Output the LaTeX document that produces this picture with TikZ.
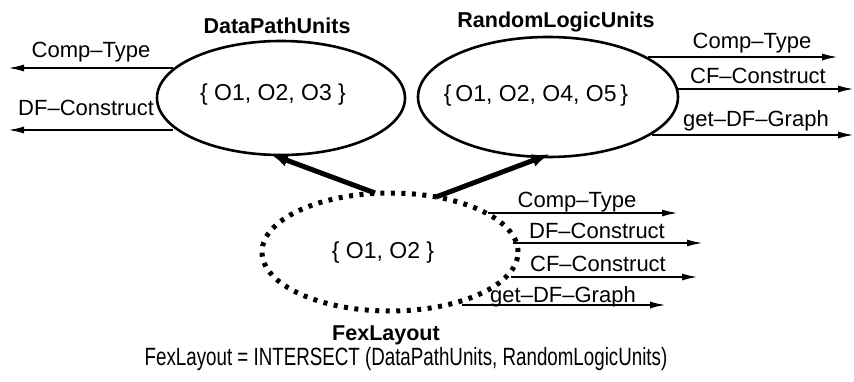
\documentclass[tikz,border=0pt]{standalone}
\usepackage{fontspec}
\setmainfont{Liberation Sans}
\usetikzlibrary{shapes.geometric,arrows.meta}
\tikzset{
  setnode/.style={ellipse, draw, line width=2.6pt, inner sep=0pt},
  dotset/.style={ellipse, draw, line width=5pt, dash pattern=on 4pt off 6.5pt, inner sep=0pt},
  msg/.style={line width=1.9pt, -{Latex[length=16pt,width=7pt]}},
  inherit/.style={line width=5pt, -{Latex[length=18pt,width=13pt]}},
  lbl/.style={font=\fontsize{22}{22}\selectfont, inner sep=0pt, anchor=base},
  title/.style={font=\fontsize{21.5}{22}\selectfont\bfseries, inner sep=0pt, anchor=base},
  members/.style={font=\fontsize{23}{23}\selectfont, inner sep=0pt, anchor=base}
}
\begin{document}
\begin{tikzpicture}[x=1pt,y=-1pt]
\useasboundingbox (0,0) rectangle (854,381);

% the three sets
\node[setnode, minimum width=248pt, minimum height=114pt] (dp) at (281,98) {};
\node[setnode, minimum width=260pt, minimum height=120pt] (rl) at (548,97) {};
\node[dotset, minimum width=256pt, minimum height=118pt] (fx) at (390,252) {};

\node[members] (dpm) at (273,100) {\{ O1, O2, O3 \}};
\node[members] (rlm) at (536,101) {\{\,O1, O2, O4, O5\,\}};
\node[members] (fxm) at (383,258) {\{ O1, O2 \}};

\node[title] (dpt) at (277,33) {DataPathUnits};
\node[title] (rlt) at (556,27) {RandomLogicUnits};
\node[title] (fxt) at (386,340) {FexLayout};

\node[font=\fontsize{25}{25}\selectfont, inner sep=0pt, anchor=base, xscale=0.75] (eq) at (406,365)
  {FexLayout = INTERSECT (DataPathUnits, RandomLogicUnits)};

% inheritance arrows
\coordinate (fxl) at (375,193);
\coordinate (fxr) at (436,197);
\coordinate (dpb) at (270,154);
\coordinate (rlb) at (550,154);
\draw[inherit] (fxl) -- (dpb);
\draw[inherit] (fxr) -- (rlb);

% messages of DataPathUnits
\coordinate (dp1) at (173,68);  \coordinate (dp1e) at (8,68);
\coordinate (dp2) at (173,130); \coordinate (dp2e) at (8,130);
\draw[msg] (dp1) -- (dp1e);
\draw[msg] (dp2) -- (dp2e);
\node[lbl] (dpl1) at (91,57) {Comp–Type};
\node[lbl, anchor=base west] (dpl2) at (18,115) {DF–Construct};

% messages of RandomLogicUnits
\coordinate (rl1) at (648,57);  \coordinate (rl1e) at (838,57);
\coordinate (rl2) at (677,89);  \coordinate (rl2e) at (854,89);
\coordinate (rl3) at (652,135); \coordinate (rl3e) at (854,135);
\draw[msg] (rl1) -- (rl1e);
\draw[msg] (rl2) -- (rl2e);
\draw[msg] (rl3) -- (rl3e);
\node[lbl] (rll1) at (752,48) {Comp–Type};
\node[lbl] (rll2) at (758,83) {CF–Construct};
\node[lbl] (rll3) at (756,126) {get–DF–Graph};

% messages of FexLayout
\coordinate (fx1) at (488,213); \coordinate (fx1e) at (678,213);
\coordinate (fx2) at (513,243); \coordinate (fx2e) at (703,243);
\coordinate (fx3) at (511,277); \coordinate (fx3e) at (698,277);
\coordinate (fx4) at (462,305); \coordinate (fx4e) at (666,305);
\draw[msg] (fx1) -- (fx1e);
\draw[msg] (fx2) -- (fx2e);
\draw[msg] (fx3) -- (fx3e);
\draw[msg] (fx4) -- (fx4e);
\node[lbl] (fxl1) at (577,207) {Comp–Type};
\node[lbl] (fxl2) at (597,238) {DF–Construct};
\node[lbl] (fxl3) at (598,271) {CF–Construct};
\node[lbl] (fxl4) at (563,302) {get–DF–Graph};
\end{tikzpicture}
\end{document}
